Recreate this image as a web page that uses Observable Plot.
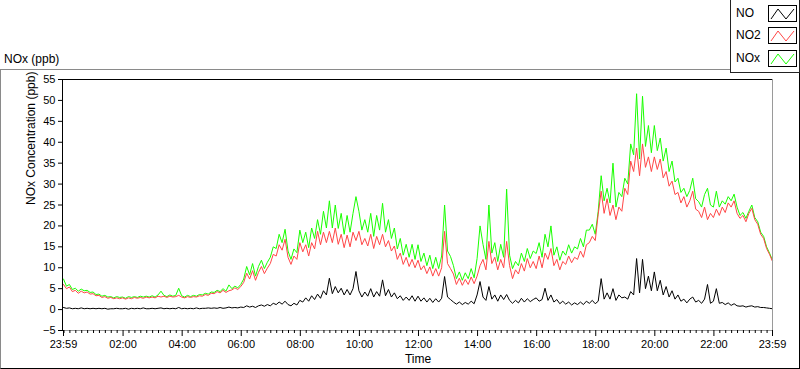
<!DOCTYPE html>
<html>
<head>
<meta charset="utf-8">
<script src="https://cdn.jsdelivr.net/npm/d3@7"></script>
<script src="https://cdn.jsdelivr.net/npm/@observablehq/plot@0.6"></script>
<style>
  html, body { margin: 0; padding: 0; background: #fff; }
  #wrap { position: relative; width: 800px; height: 369px; overflow: hidden; font-family: "Liberation Sans", Arial, sans-serif; color: #000; }
  #chart { position: absolute; left: 0; top: 0; }
  #outer { position: absolute; left: 0; top: 69px; width: 800px; height: 300px; box-sizing: border-box;
           border-top: 1px solid #8a8a8a; border-left: 1px solid #8a8a8a; border-right: 1px solid #000; border-bottom: 1px solid #000; pointer-events: none; }
  #title { position: absolute; left: 4px; top: 51px; font-size: 12px; line-height: 16px; }
  #legend { position: absolute; left: 730px; top: -1px; width: 70px; height: 74px; box-sizing: border-box; background: #fff;
            border: 1px solid #222; }
  .entry { position: absolute; left: 5px; font-size: 12px; line-height: 16px; }
  .sw { position: absolute; left: 37px; width: 29px; height: 17px; box-sizing: border-box; border: 1px solid #000; background: #fff; }
  .sw svg { display: block; }
</style>
</head>
<body>
<div id="wrap">
  <div id="chart"></div>
  <div id="outer"></div>
  <div id="title"></div>
  <div id="legend"></div>
</div>
<script>
// ---- data ----
const startTime = "2000-01-01T23:59:00Z";
const stepMinutes = 6;
const seriesNames = ["NO", "NO2", "NOx"];
const seriesColors = ["#000000", "#ff4646", "#19ff00"];
const yTicks = [-5, 0, 5, 10, 15, 20, 25, 30, 35, 40, 45, 50, 55];
const xTickLabels = ["23:59", "02:00", "04:00", "06:00", "08:00", "10:00", "12:00", "14:00", "16:00", "18:00", "20:00", "22:00", "23:59"];
const yTitle = "NOx Concentration (ppb)";
const xTitle = "Time";
const panelTitle = "NOx (ppb)";

const no2 = [
  6.0, 5.0, 5.4, 4.3, 4.6, 3.9, 4.4, 4.0, 4.2, 3.7,
  3.8, 3.3, 3.4, 2.9, 3.1, 2.7, 2.9, 2.6, 2.8, 2.6,
  2.8, 2.5, 2.8, 2.6, 2.9, 2.7, 2.9, 2.7, 3.0, 2.8,
  3.0, 2.8, 3.2, 3.0, 3.2, 2.9, 3.2, 3.0, 3.1, 3.4,
  3.0, 2.8, 3.1, 2.9, 3.1, 3.0, 3.3, 3.2, 3.6, 3.4,
  3.9, 3.8, 4.3, 4.0, 4.6, 4.1, 4.5, 4.7, 5.2, 4.8,
  5.5, 6.5, 8.7, 7.3, 9.3, 7.0, 8.9, 10.3, 8.6, 9.9,
  11.0, 13.2, 12.8, 15.5, 14.2, 16.8, 12.5, 10.8, 12.8, 12.0,
  16.0, 13.8, 15.5, 12.8, 16.0, 14.5, 18.7, 15.5, 18.5, 16.0,
  18.7, 16.0, 19.5, 15.6, 18.0, 14.8, 17.8, 15.0, 18.5, 16.5,
  18.7, 15.5, 17.0, 15.2, 18.0, 14.6, 17.5, 15.5, 18.0, 15.0,
  16.5, 14.0, 15.2, 12.0, 13.5, 10.8, 12.5, 10.3, 12.0, 10.0,
  11.8, 9.5, 10.5, 8.6, 10.2, 8.0, 9.8, 8.0, 10.0, 18.7,
  11.0, 9.8, 8.5, 6.0, 7.5, 5.8, 7.2, 6.0, 7.8, 6.2,
  8.0, 10.5, 12.0, 9.5, 16.3, 11.0, 12.5, 9.5, 12.0, 10.0,
  16.3, 10.5, 7.4, 9.5, 8.5, 11.0, 9.2, 12.2, 10.0, 11.5,
  9.8, 12.8, 10.0, 13.5, 12.0, 14.6, 10.5, 12.0, 9.5, 11.5,
  10.8, 12.8, 11.2, 12.5, 12.0, 14.0, 12.5, 15.5, 16.0, 17.5,
  16.5, 22.8, 28.3, 23.0, 26.5, 22.5, 25.0, 21.5, 24.5, 23.5,
  29.0, 27.5, 35.5, 33.0, 38.6, 32.0, 39.6, 34.0, 36.5, 33.0,
  36.5, 33.5, 36.0, 31.5, 33.0, 29.5, 30.7, 27.5, 28.0, 25.5,
  27.0, 24.5, 26.0, 28.3, 24.0, 23.5, 22.0, 24.5, 21.5, 23.0,
  22.0, 24.0, 22.5, 24.5, 23.2, 25.5, 24.5, 26.0, 23.0, 21.8,
  22.5, 21.0, 23.0, 24.2, 21.5, 20.4, 18.0, 17.0, 14.6, 13.2,
  11.5
];

const nox = [
  7.3, 5.6, 6.0, 4.8, 5.1, 4.4, 4.9, 4.5, 4.6, 4.1,
  4.2, 3.6, 3.7, 3.2, 3.4, 3.0, 3.1, 2.8, 3.1, 2.9,
  3.0, 2.7, 3.1, 2.9, 3.1, 2.9, 3.2, 3.0, 3.2, 3.0,
  3.3, 3.0, 3.5, 4.4, 3.4, 3.1, 3.5, 3.2, 3.4, 5.1,
  3.3, 3.0, 3.4, 3.1, 3.4, 3.2, 3.6, 3.5, 3.9, 3.7,
  4.2, 4.1, 4.6, 4.3, 5.0, 4.4, 5.9, 5.0, 5.6, 5.2,
  6.0, 7.3, 10.3, 8.3, 11.0, 8.0, 10.3, 11.8, 9.8, 11.3,
  12.5, 15.0, 14.6, 18.0, 16.0, 19.2, 14.0, 12.0, 14.5, 13.6,
  19.0, 16.0, 18.5, 14.8, 19.5, 17.0, 21.5, 18.0, 23.5, 19.5,
  26.0, 19.5, 25.0, 19.4, 23.0, 18.0, 22.5, 18.5, 23.0, 27.0,
  23.5, 19.0, 21.5, 18.5, 23.0, 17.5, 22.5, 19.0, 25.4, 18.5,
  21.5, 17.0, 19.5, 14.5, 17.0, 13.0, 15.6, 12.5, 15.6, 12.0,
  15.5, 11.5, 13.5, 10.5, 13.0, 9.8, 12.5, 9.8, 12.8, 25.0,
  14.0, 12.7, 10.5, 7.4, 9.0, 7.0, 8.8, 7.4, 9.8, 7.6,
  12.2, 20.0, 15.6, 12.0, 25.0, 13.5, 16.0, 11.5, 15.6, 12.5,
  28.8, 13.0, 9.8, 11.5, 10.5, 13.5, 11.5, 14.6, 12.2, 14.0,
  13.4, 16.0, 12.5, 18.0, 15.0, 20.0, 13.0, 15.0, 11.8, 14.0,
  13.0, 15.5, 13.5, 15.0, 14.5, 17.0, 15.0, 19.0, 19.0, 20.4,
  18.0, 23.5, 32.0, 26.0, 29.0, 25.5, 35.0, 24.5, 28.0, 27.0,
  31.4, 30.0, 39.6, 37.0, 51.6, 36.0, 51.0, 39.0, 44.0, 37.5,
  44.0, 38.0, 41.0, 35.5, 38.6, 33.0, 35.5, 30.5, 31.4, 28.0,
  29.0, 27.0, 28.5, 31.4, 26.5, 25.8, 24.5, 27.5, 29.0, 25.0,
  24.5, 28.3, 24.5, 26.0, 25.2, 27.0, 26.0, 27.6, 24.5, 22.5,
  23.2, 21.8, 23.5, 25.0, 22.0, 21.0, 18.5, 17.5, 15.0, 13.5,
  11.8
];

const no = [
  0.5, 0.3, 0.4, 0.2, 0.3, 0.2, 0.4, 0.2, 0.3, 0.2,
  0.3, 0.2, 0.3, 0.2, 0.3, 0.1, 0.2, 0.2, 0.3, 0.2,
  0.2, 0.3, 0.1, 0.3, 0.2, 0.3, 0.2, 0.4, 0.2, 0.2,
  0.3, 0.2, 0.3, 0.4, 0.2, 0.3, 0.2, 0.3, 0.2, 0.5,
  0.2, 0.3, 0.2, 0.3, 0.2, 0.4, 0.2, 0.3, 0.3, 0.4,
  0.3, 0.4, 0.3, 0.5, 0.3, 0.4, 0.6, 0.4, 0.5, 0.4,
  0.6, 0.5, 0.9, 0.6, 0.8, 0.5, 0.9, 1.1, 0.8, 1.2,
  0.9, 1.5, 1.2, 1.8, 1.3, 2.0, 1.2, 0.9, 1.5, 1.1,
  2.2, 1.8, 2.8, 2.0, 3.3, 2.4, 3.7, 2.7, 4.5, 3.5,
  7.5, 3.8, 5.5, 4.0, 5.1, 3.5, 4.8, 3.5, 5.0, 9.1,
  4.5, 3.0, 4.2, 3.2, 5.0, 3.0, 4.3, 3.2, 7.1, 3.3,
  4.8, 3.0, 4.0, 2.6, 3.3, 2.2, 3.0, 2.2, 3.3, 2.0,
  3.2, 2.0, 2.8, 1.8, 2.7, 1.7, 2.6, 1.8, 2.7, 7.9,
  3.0, 2.4, 1.8, 1.3, 1.8, 1.2, 1.7, 1.3, 2.0, 1.4,
  3.5, 6.7, 3.0, 2.2, 5.5, 2.5, 3.5, 2.0, 3.5, 2.4,
  3.6, 2.2, 1.5, 2.2, 1.6, 2.7, 1.8, 2.6, 1.9, 2.4,
  2.8, 2.0, 2.4, 5.1, 2.2, 3.5, 1.8, 2.4, 1.4, 2.0,
  1.3, 1.8, 1.1, 1.6, 1.2, 1.8, 1.2, 2.0, 1.5, 2.2,
  1.4, 2.0, 7.4, 2.5, 4.0, 2.5, 5.0, 2.2, 3.5, 2.8,
  3.0, 2.5, 4.3, 3.5, 12.2, 4.0, 12.0, 5.0, 8.0, 4.5,
  9.0, 4.5, 7.0, 3.5, 5.5, 3.0, 4.5, 2.5, 3.5, 2.0,
  2.5, 1.6, 2.5, 3.0, 1.8, 2.2, 1.5, 2.5, 6.0, 1.5,
  2.0, 5.0, 1.5, 1.7, 1.2, 1.6, 1.0, 1.4, 0.9, 0.8,
  0.9, 0.6, 0.8, 0.9, 0.6, 0.7, 0.5, 0.5, 0.4, 0.3,
  0.2
];

// ---- build ----
const t0 = new Date(startTime);
const t1 = d3.utcMinute.offset(t0, 24 * 60);
const times = no2.map((_, i) => d3.utcMinute.offset(t0, i * stepMinutes));
const seriesValues = [no, no2, nox];
const rows = [];
seriesNames.forEach((name, s) => {
  seriesValues[s].forEach((v, i) => rows.push({series: name, time: times[i], value: v}));
});
const majorTicks = xTickLabels.map((lab, i) =>
  i === 0 ? t0 : (i === xTickLabels.length - 1 ? t1 : new Date(`2000-01-02T${lab}:00Z`)));
const minorTicks = d3.utcMinute.every(12).range(t0, t1).filter(d => !majorTicks.some(m => +m === +d));
const fmt = d3.utcFormat("%H:%M");

const drawOrder = ["NOx", "NO2", "NO"];
const plot = Plot.plot({
  width: 800,
  height: 369,
  marginLeft: 63,
  marginRight: 28,
  marginTop: 79,
  marginBottom: 39,
  style: {background: "transparent", fontFamily: "'Liberation Sans', Arial, sans-serif", fontSize: "11px", color: "#000", overflow: "visible"},
  x: {type: "utc", domain: [t0, t1], axis: null},
  y: {domain: [-5, 55], axis: null},
  marks: [
    ...drawOrder.map(name => Plot.lineY(rows.filter(r => r.series === name), {
      x: "time", y: "value", stroke: seriesColors[seriesNames.indexOf(name)], strokeWidth: 1, curve: "linear"
    })),
    Plot.ruleY([-5], {stroke: "#9a9a9a"}),
    Plot.ruleX([t1], {stroke: "#9a9a9a"}),
    Plot.ruleY([55], {stroke: "#000"}),
    Plot.ruleX([t0], {stroke: "#000", dx: -1}),
    Plot.axisY(yTicks, {anchor: "left", tickSize: 5, tickPadding: 3, label: null, fontSize: 11}),
    Plot.axisX(minorTicks, {anchor: "bottom", tickSize: 3, tickFormat: () => "", label: null}),
    Plot.axisX(majorTicks, {anchor: "bottom", tickSize: 6, tickPadding: 4, tickFormat: fmt, label: null, fontSize: 11}),
    Plot.text([yTitle], {frameAnchor: "left", rotate: -90, dx: -32, fontSize: 12, text: d => d}),
    Plot.text([xTitle], {frameAnchor: "bottom", dy: 32, fontSize: 12, text: d => d})
  ]
});
document.getElementById("chart").appendChild(plot);
document.getElementById("title").textContent = panelTitle;

// legend
const legend = document.getElementById("legend");
const entryTops = [6, 28, 51];
seriesNames.forEach((name, i) => {
  const e = document.createElement("div");
  e.className = "entry";
  e.style.top = (entryTops[i] - 1) + "px";
  e.textContent = name;
  legend.appendChild(e);
  const sw = document.createElement("div");
  sw.className = "sw";
  sw.style.top = (entryTops[i] - 1) + "px";
  sw.innerHTML = `<svg width="27" height="15"><polyline points="2,13 9,3 17,13 25,3" fill="none" stroke="${seriesColors[i]}" stroke-width="1"/></svg>`;
  legend.appendChild(sw);
});
</script>
</body>
</html>
